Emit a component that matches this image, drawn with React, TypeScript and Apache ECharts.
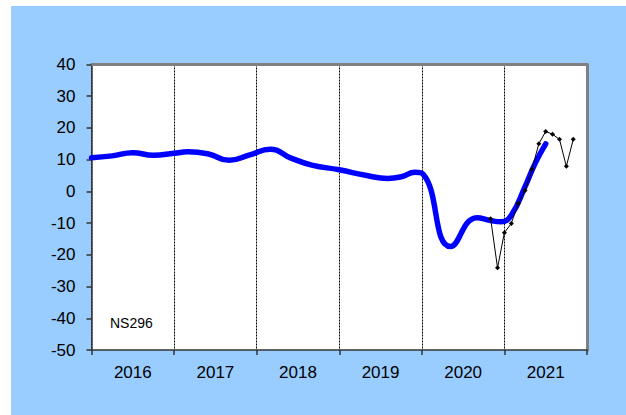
import React, { useEffect, useRef } from "react";
import * as echarts from "echarts";

// x positions are months counted from January 2016 (0) to January 2022 (72)
const yearLabels = ["2016", "2017", "2018", "2019", "2020", "2021"];

const trendMonths = [0, 3, 6, 9, 12, 14, 17, 20, 23, 26, 29, 32, 36, 40, 43, 45, 47, 48.2, 52.2, 56, 58, 59.5, 61, 63, 64.5, 66];
const trendValues = [10.6, 11.2, 12.2, 11.4, 12.0, 12.5, 11.8, 9.8, 11.5, 13.3, 10.5, 8.3, 6.8, 5.0, 4.1, 4.6, 6.0, 5.4, -17.4, -8.3, -9.2, -9.6, -7.5, 1.5, 9, 15];

const monthlyMonths = [58, 59, 60, 61, 62, 63, 64, 65, 66, 67, 68, 69, 70];
const monthlyValues = [-8.6, -24.1, -13.0, -10.1, -3.8, 0.3, 7.0, 15.0, 18.9, 18.0, 16.4, 7.9, 16.4];

const yMin = -50;
const yMax = 40;
const yStep = 10;

const FONT = "'Liberation Sans', Arial, sans-serif";

export default function App() {
  const ref = useRef<HTMLDivElement>(null);

  useEffect(() => {
    document.body.style.margin = "0";
    if (!ref.current) return;
    const chart = echarts.init(ref.current, null, { renderer: "svg" });
    const trend = trendMonths.map((m, i) => [m, trendValues[i]]);
    const monthly = monthlyMonths.map((m, i) => [m, monthlyValues[i]]);
    chart.setOption({
      animation: false,
      textStyle: { fontFamily: FONT },
      grid: {
        left: 91.5,
        right: 39,
        top: 64.5,
        bottom: 65,
        show: true,
        backgroundColor: "#ffffff",
        borderWidth: 0,
      },
      xAxis: [
        {
          type: "value",
          min: 0,
          max: 72,
          interval: 12,
          position: "bottom",
          axisLine: { show: true, onZero: false, lineStyle: { color: "#333333", width: 1.5 } },
          axisTick: { show: true, inside: false, length: 5, lineStyle: { color: "#333333", width: 1.5 } },
          axisLabel: { show: false },
          splitLine: { show: true, lineStyle: { color: "#000000", type: [2, 1], width: 1 } },
        },
        {
          type: "category",
          data: yearLabels,
          boundaryGap: true,
          position: "bottom",
          axisLine: { show: false },
          axisTick: { show: false },
          splitLine: { show: false },
          axisLabel: { show: true, color: "#000000", fontSize: 17, margin: 14, fontFamily: FONT },
        },
        {
          type: "value",
          min: 0,
          max: 72,
          position: "top",
          axisLine: { show: true, onZero: false, lineStyle: { color: "#808080", width: 3 } },
          axisTick: { show: false },
          axisLabel: { show: false },
          splitLine: { show: false },
        },
      ],
      yAxis: [
        {
          type: "value",
          min: yMin,
          max: yMax,
          interval: yStep,
          position: "left",
          axisLine: { show: true, onZero: false, lineStyle: { color: "#333333", width: 1.5 } },
          axisTick: { show: true, inside: false, length: 5, lineStyle: { color: "#333333", width: 1.5 } },
          axisLabel: { show: true, color: "#000000", fontSize: 17, margin: 16, fontFamily: FONT },
          splitLine: { show: false },
        },
        {
          type: "value",
          min: yMin,
          max: yMax,
          interval: yStep,
          position: "right",
          axisLine: { show: true, onZero: false, lineStyle: { color: "#808080", width: 3 } },
          axisTick: { show: false },
          axisLabel: { show: false },
          splitLine: { show: false },
        },
      ],
      graphic: [
        {
          type: "text",
          left: 110,
          top: 316,
          style: { text: "NS296", fill: "#000000", fontSize: 14, fontFamily: FONT },
          z: 10,
        },
      ],
      series: [
        {
          type: "line",
          xAxisIndex: 0,
          yAxisIndex: 0,
          data: trend,
          smooth: 0.5,
          showSymbol: false,
          lineStyle: { color: "#0000ff", width: 5.5, cap: "round", join: "round" },
          z: 3,
        },
        {
          type: "line",
          xAxisIndex: 0,
          yAxisIndex: 0,
          data: monthly,
          symbol: "diamond",
          symbolSize: 5,
          showSymbol: true,
          itemStyle: { color: "#000000" },
          lineStyle: { color: "#000000", width: 1 },
          z: 4,
        },
      ],
    });
    return () => chart.dispose();
  }, []);

  return (
    <div style={{ position: "relative", width: 626, height: 415, background: "#ffffff" }}>
      <div style={{ position: "absolute", left: 11, top: 6, right: 0, bottom: 0, background: "#99ccff" }} />
      <div ref={ref} style={{ position: "absolute", left: 0, top: 0, width: 626, height: 415 }} />
    </div>
  );
}
